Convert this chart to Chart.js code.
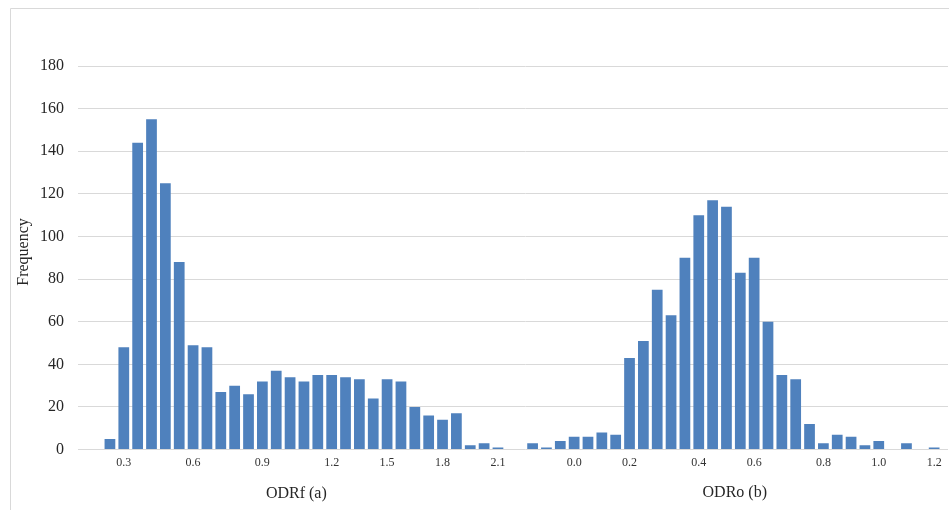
<!DOCTYPE html>
<html>
<head>
<meta charset="utf-8">
<script src="https://cdn.jsdelivr.net/npm/chart.js@4.4.1/dist/chart.umd.min.js"></script>
<style>
html,body{margin:0;padding:0;background:#ffffff;}
canvas{display:block;}
</style>
</head>
<body>
<canvas id="c" width="949" height="510"></canvas>
<script>
// ---- data ----
const yTicks = [0, 20, 40, 60, 80, 100, 120, 140, 160, 180];

// ODRf (a): 29 bins, plus one trailing empty slot
const odrfLabels = ['', '0.3', '', '', '', '', '0.6', '', '', '', '', '0.9', '', '', '', '',
                    '1.2', '', '', '', '1.5', '', '', '', '1.8', '', '', '', '2.1', ''];
const odrfValues = [5, 48, 144, 155, 125, 88, 49, 48, 27, 30, 26, 32, 37, 34, 32,
                    35, 35, 34, 33, 24, 33, 32, 20, 16, 14, 17, 2, 3, 1];

// ODRo (b): 30 bins, with one leading and one trailing empty slot
const odroLabels = ['', '', '', '', '0.0', '', '', '', '0.2', '', '', '', '', '0.4', '', '', '',
                    '0.6', '', '', '', '', '0.8', '', '', '', '1.0', '', '', '', '1.2', ''];
const odroValues = [3, 1, 4, 6, 6, 8, 7, 43, 51, 75, 63, 90, 110, 117, 114,
                    83, 90, 60, 35, 33, 12, 3, 7, 6, 2, 4, 0, 3, 0, 1];

const axisTitles = ['ODRf (a)', 'ODRo (b)'];
const yTitle = 'Frequency';

const BAR = '#4f81bd';
const SERIF = '"Liberation Serif", "Times New Roman", serif';

const decor = {
  id: 'decor',
  beforeDraw(chart) {
    const ctx = chart.ctx;
    ctx.save();
    ctx.strokeStyle = '#d9d9d9';
    ctx.lineWidth = 1;
    ctx.beginPath();
    ctx.moveTo(10.5, 510);
    ctx.lineTo(10.5, 8.5);
    ctx.lineTo(949, 8.5);
    ctx.stroke();
    ctx.restore();
  },
  afterDraw(chart) {
    const ctx = chart.ctx;
    const x1 = chart.scales.x1, x2 = chart.scales.x2;
    ctx.save();
    ctx.fillStyle = '#262626';
    ctx.font = '16px ' + SERIF;
    ctx.textAlign = 'center';
    ctx.textBaseline = 'middle';
    ctx.fillText(axisTitles[0], x1.getPixelForValue(13.45), 494);
    ctx.fillText(axisTitles[1], x2.getPixelForValue(15.6), 493);
    ctx.translate(24, 252);
    ctx.rotate(-Math.PI / 2);
    ctx.fillText(yTitle, 0, 0);
    ctx.restore();
  }
};

const noSidePad = (s) => { s.paddingLeft = 0; s.paddingRight = 0; };

new Chart(document.getElementById('c'), {
  type: 'bar',
  data: {
    datasets: [
      {
        label: axisTitles[0],
        data: odrfValues,
        xAxisID: 'x1',
        backgroundColor: BAR,
        borderWidth: 0,
        grouped: false,
        barPercentage: 0.775,
        categoryPercentage: 1
      },
      {
        label: axisTitles[1],
        data: [null, ...odroValues, null],
        xAxisID: 'x2',
        backgroundColor: BAR,
        borderWidth: 0,
        grouped: false,
        barPercentage: 0.775,
        categoryPercentage: 1
      }
    ]
  },
  options: {
    responsive: false,
    animation: false,
    devicePixelRatio: 1,
    layout: { padding: { left: 26, right: 1, top: 66, bottom: 34 } },
    plugins: { legend: { display: false }, tooltip: { enabled: false } },
    scales: {
      x1: {
        type: 'category',
        labels: odrfLabels,
        position: 'bottom',
        stack: 'xs',
        stackWeight: 415.8,
        offset: true,
        afterFit: noSidePad,
        grid: { display: false, drawTicks: false },
        border: { display: false },
        ticks: { autoSkip: false, maxRotation: 0, minRotation: 0, padding: 6,
                 font: { family: SERIF, size: 12 }, color: '#333333' }
      },
      x2: {
        type: 'category',
        labels: odroLabels,
        position: 'bottom',
        stack: 'xs',
        stackWeight: 429.3,
        offset: false,
        afterFit: noSidePad,
        grid: { display: false, drawTicks: false },
        border: { display: false },
        ticks: { autoSkip: false, maxRotation: 0, minRotation: 0, padding: 6,
                 font: { family: SERIF, size: 12 }, color: '#333333' }
      },
      y: {
        min: 0,
        max: 180,
        afterBuildTicks: (s) => { s.ticks = yTicks.map(v => ({ value: v })); },
        grid: { color: '#d9d9d9', lineWidth: 1, tickLength: 25, tickColor: '#d9d9d9', drawTicks: true },
        border: { display: false },
        ticks: { padding: 14, font: { family: SERIF, size: 16 }, color: '#262626' }
      }
    }
  },
  plugins: [decor]
});
</script>
</body>
</html>
